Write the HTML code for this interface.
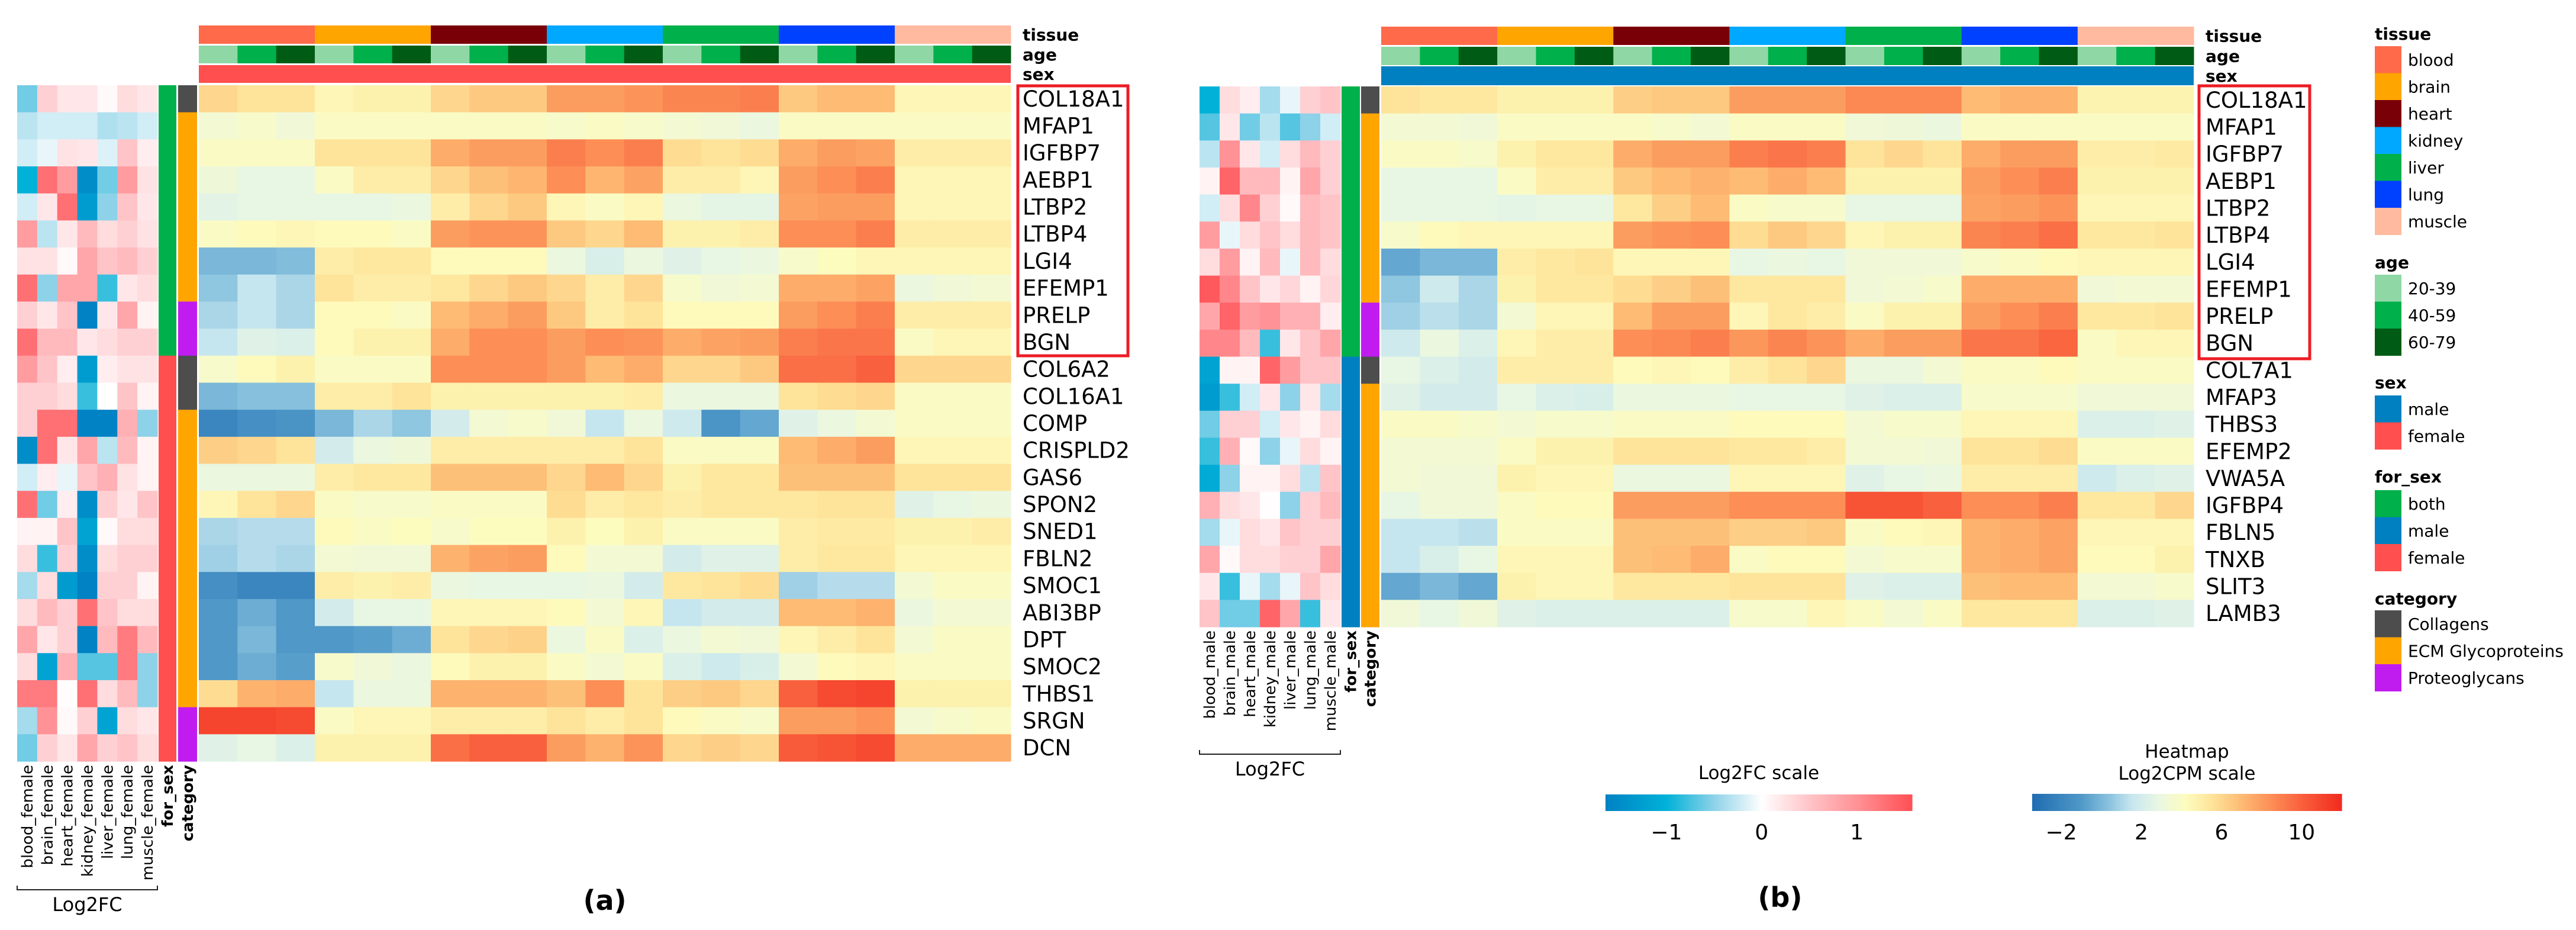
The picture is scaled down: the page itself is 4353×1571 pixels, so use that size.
<!DOCTYPE html>
<html><head><meta charset="utf-8"><title>Heatmaps</title>
<style>
html,body{margin:0;padding:0;background:#fff;}
svg{display:block;}
text{font-family:"DejaVu Sans",sans-serif;}
</style></head>
<body>
<svg id="fig" width="4353" height="1571" viewBox="0 0 4353 1571" xmlns="http://www.w3.org/2000/svg"></svg>
<script>
const tissues = ["blood","brain","heart","kidney","liver","lung","muscle"];
const ages = ["20-39","40-59","60-79"];
const categories = ["Collagens","ECM Glycoproteins","Proteoglycans"];
const forSexLevels = ["both","male","female"];

const genesA = ["COL18A1","MFAP1","IGFBP7","AEBP1","LTBP2","LTBP4","LGI4","EFEMP1","PRELP","BGN","COL6A2","COL16A1","COMP","CRISPLD2","GAS6","SPON2","SNED1","FBLN2","SMOC1","ABI3BP","DPT","SMOC2","THBS1","SRGN","DCN"];
const forSexA = [0,0,0,0,0,0,0,0,0,0,2,2,2,2,2,2,2,2,2,2,2,2,2,2,2];
const catA = [0,1,1,1,1,1,1,1,2,2,0,0,1,1,1,1,1,1,1,1,1,1,1,2,2];
const valsA = [
[6,5.5,5.5,4.5,4.8,4.8,6,6.5,6.5,8,8,8.3,8.8,8.8,9,6.5,7,7,4.5,4.5,4.5],
[3.5,3.8,3.3,4,4,4,4,4,4,3.8,4,3.8,3.5,3.3,3,4,4,4,4,4,4],
[4,4,4,5.5,5.5,5.5,7.5,8,8,9,8.5,9,5.8,5.5,5.8,7.5,8,7.8,5,5,5],
[3.2,2.8,2.8,4,5,5,6,6.8,7.2,8.5,7.2,7.8,5,5,4.5,8,8.5,9,4.5,4.5,4.5],
[2.6,2.8,2.8,2.8,2.8,3,5,6,6.5,4.5,4,4.5,3,2.7,2.7,7.8,8,8,4.5,4.5,4.5],
[4,4.3,4.5,4.3,4.3,4,8,8.3,8.3,6.5,6,7,4.8,4.8,5,8.5,8.5,9,5,5,5],
[0,0,0.2,5,5.3,5.3,4.3,4.3,4.3,3,2.2,3,2.5,2.8,3,3.8,4.2,4.5,4.5,4.5,4.5],
[0.5,1.5,1,5.5,5,5,5.3,6,6.5,6,5,6,3.8,3.3,3.5,7.5,7.5,7.8,3,3.3,3.5],
[1,1.5,1,4.3,4.3,4,7,7.5,8,6.5,5,5.5,4.3,4.3,4.3,8,8.5,9,5,5,5],
[1.5,2.5,2.3,4.3,4.8,4.8,7.5,8.5,8.5,8,8.5,8.3,7.5,7.8,8,9,9.3,9.3,4,4.5,4.5],
[3.8,4.3,4.8,4,4,4,8.5,8.5,8.5,8,7,7.5,6,6,6.5,9.5,9.5,10,6,6,6],
[0,0.3,0.3,5,5,5.5,4.8,4.8,4.8,4.8,4.8,5,3,3,3,5.5,5.8,6,4,4,4],
[-2,-1.5,-1.3,0,1,0.5,2,3.5,3.8,3.3,1.5,3,1.8,-1.2,-0.5,2.5,3,3.5,4,4,4],
[6.3,6,5.5,2,3,3.2,5,5,5,5,5,5.5,4,4,4,7,7.5,8,4.5,4.5,4.5],
[3,3,3,5,5.3,5.3,6.8,6.8,6.8,6,7,6,4.8,5.3,5.3,6.8,6.8,6.8,5.5,5.5,5.5],
[4.5,5.5,6,4,3.8,3.8,4,4,4,5.8,5,5.3,5,5.3,5.3,5.3,5.5,5.5,2.5,2.8,3],
[1,1.2,1.2,4.3,4,4.2,3.8,4.2,4.2,4.8,4.2,4.8,4,4,4,5,5.2,5.2,4.8,4.8,5],
[0.8,1.2,1,3.5,3.3,3.3,7.3,7.8,8,4.3,3.5,3.5,2,2.5,2.5,5,5.3,5.3,4.5,4.5,4.5],
[-1.5,-2,-2,5,4.8,5,3,2.8,2.8,2.8,3,2,5.3,5.5,5.8,0.8,1.2,1.2,3.5,4,4],
[-1,-0.3,-1,2,2.8,2.8,4.5,4.5,4.5,4.3,3.5,4.5,1.5,2,2,7,7,7.3,3,3.5,3.5],
[-1,0,-1,-1,-0.8,-0.3,5.5,6,6.2,3,4,2.3,3,3.5,3.3,4.5,5,5.5,3.5,4,4],
[-1,-0.3,-0.8,3.8,3.3,3,4.3,4.8,4.8,4,3.5,4,2.3,1.8,2.2,3.5,4.3,4.5,4,4,4],
[5.8,7.3,7.5,1.5,3,3,7.3,7.3,7.3,6.8,8.5,5.5,6.3,6.5,6,10,10.8,11,4.8,4.8,4.8],
[11,11,10.8,4,4.5,4.5,5,5,5,5.5,5,5.5,4.3,4,3.8,8,8,8.3,3.5,3.8,4],
[2.5,2.8,2.3,4.8,4.8,4.8,9.5,10,10,8,7.3,8.3,6,6.3,6,10.2,10.5,10.8,7.5,7.5,7.5]
];
const fcA = [
[-0.6,0.4,0.2,0.2,0.05,0.3,0.2],
[-0.3,-0.2,-0.2,-0.2,-0.35,-0.3,-0.2],
[-0.2,-0.1,0.25,0.2,-0.15,0.5,0.15],
[-1.0,1.3,0.9,-1.5,-0.6,0.9,0.25],
[-0.2,0.2,1.3,-1.3,-0.5,0.5,0.2],
[0.9,-0.3,0.2,0.6,0.3,0.4,0.25],
[0.25,0.25,0.05,0.8,0.5,0.6,0.4],
[1.3,-0.5,0.8,0.8,-0.8,0.2,0.3],
[0.4,0.2,0.5,-1.7,0.2,0.8,0.1],
[1.3,0.6,0.6,0.2,0.3,0.4,0.4],
[0.9,0.5,0.15,-1.3,0.15,0.25,0.25],
[0.4,0.4,0.3,-0.8,0.0,0.5,0.1],
[0.4,1.3,1.3,-1.8,-1.8,0.7,-0.5],
[-1.5,1.3,0.2,0.8,-0.3,0.6,0.1],
[-0.2,0.15,-0.1,0.5,0.7,0.25,0.1],
[1.3,-0.6,0.15,-1.5,0.4,0.2,0.5],
[0.1,0.1,0.5,-1.2,0.05,0.3,0.3],
[0.3,-0.8,0.4,-1.5,0.3,0.4,0.4],
[-0.4,0.3,-1.3,-1.8,0.4,0.4,0.1],
[0.3,0.6,0.4,1.3,0.5,0.3,0.3],
[0.8,0.2,0.4,-1.8,0.6,1.2,0.6],
[0.3,-1.2,0.7,-0.7,-0.7,1.2,-0.5],
[1.2,1.2,0.02,1.3,0.3,0.6,-0.5],
[-0.4,1.0,0.05,0.4,-1.2,0.3,0.2],
[-0.6,0.4,0.2,0.8,0.4,0.5,0.3]
];

const genesB = ["COL18A1","MFAP1","IGFBP7","AEBP1","LTBP2","LTBP4","LGI4","EFEMP1","PRELP","BGN","COL7A1","MFAP3","THBS3","EFEMP2","VWA5A","IGFBP4","FBLN5","TNXB","SLIT3","LAMB3"];
const forSexB = [0,0,0,0,0,0,0,0,0,0,1,1,1,1,1,1,1,1,1,1];
const catB = [0,1,1,1,1,1,1,1,2,2,0,1,1,1,1,1,1,1,1,1];
const valsB = [
[5.5,5.3,5.3,4.8,4.8,4.8,6.3,6.5,6.5,8,8,8,8.7,8.7,8.7,7,7.3,7.3,4.7,4.7,4.7],
[3.5,3.5,3.3,4,4,4,4,3.8,3.5,4,4,4,3.3,3.2,3,4,4,4,4,4,4],
[4,4,3.8,4.8,5.3,5.3,7.5,8,8,9,9.3,9,5.5,6,5.5,7.5,8,8,5,5,5.2],
[2.8,2.8,2.8,4,5,5,6.5,7,7.3,7,7.5,7,4.8,4.8,4.8,8,8.5,9,4.8,4.8,4.8],
[2.8,2.8,2.8,2.7,2.8,2.8,5.3,6.3,7,4,3.8,3.8,2.8,2.8,2.8,7.8,8,8.3,4.5,4.5,4.5],
[3.8,4.3,4.5,4.5,4.5,4.5,8,8.3,8.5,5.8,6.5,6,4.5,4.8,4.8,8.8,9,9.5,5.3,5.3,5.5],
[-0.5,0,0,5,5.3,5.5,4.5,4.5,4.5,2.8,3,2.8,3.3,3.3,3.3,3.8,4,4.3,4.5,4.5,4.5],
[0.5,1.8,1,4.8,5.3,5.3,5.8,6.3,6.8,5.3,5.3,5.3,3.3,3.5,3.8,7.5,7.5,7.5,3.3,3.5,3.5],
[0.8,1.3,1,3.5,4.5,4.5,7,8,8,4.5,5.3,5,4,4.8,4.8,8,8.5,9,5.3,5.3,5.5],
[1.8,3,2.3,4.5,5,5,8.5,8.7,9,8.2,8.8,8.3,7.5,8,8,9.3,9.3,9.8,4,4.5,4.5],
[2.8,2.3,2,5,5,5,4.3,4.5,4.3,5,5.5,6,3,3,3.5,4,4,4.3,4,4,4],
[2.5,2,2,2.8,2.3,2.2,3,3,3,2.8,2.8,2.8,2.5,2.3,2.3,3.8,3.8,3.8,3.3,3.3,3.3],
[4,4,3.8,3.5,3.8,3.8,4,4,4,4.3,4.3,4.3,3.5,3.8,3.8,4.5,4.5,4.5,2.3,2.3,2.5],
[3.5,3.5,3.5,4,4.8,4.8,5.5,5.5,5.5,5.3,5.3,5,3.5,3.5,3.3,5.5,5.5,5.8,4,4,4],
[3.5,3.3,3.3,4.8,4.5,4.5,3,3,3,4.5,4.5,4.5,2.5,2.8,3,5,5,5,1.8,2.3,2.5],
[2.8,3.3,3.3,4,4.3,4.3,8,8,8,8.5,8.5,8.5,10.5,10.5,10,8.5,8.5,9,5.3,5.3,6],
[1.5,1.5,1.3,4,4,4,6.8,6.8,6.8,6.3,6.3,6.5,4,4.3,4.5,7.3,7.5,7.8,4.5,4.5,4.5],
[1.5,2.2,2.8,4.5,4.5,4.5,6.8,7,7.5,4,4.3,4.3,3.5,3.8,3.8,7.3,7.5,7.8,4.3,4.3,4.8],
[-0.5,0,-0.5,4.8,4.5,4.5,5.3,5.3,5.3,5.5,5.5,5.5,2.5,2.3,2.3,6.8,7,7,3.5,3.5,3.8],
[3.3,2.8,3.3,2.5,2.3,2.3,2.3,2.3,2.3,3.8,3.8,4.5,4,3.5,4,5.3,5.3,5.3,2.3,2.3,2.5]
];
const fcB = [
[-1.0,0.3,0.15,-0.4,-0.1,0.4,0.5],
[-0.7,0.2,-0.6,-0.3,-0.7,-0.5,-0.2],
[-0.3,1.0,0.2,-0.2,0.3,0.6,0.4],
[0.1,1.4,0.6,0.6,0.1,0.8,0.4],
[-0.2,0.3,1.1,0.4,0.05,0.6,0.5],
[0.9,-0.1,0.3,0.5,0.3,0.6,0.5],
[0.3,0.9,0.1,0.6,-0.1,0.6,0.3],
[1.5,1.1,0.5,0.2,0.35,0.1,0.35],
[0.8,1.4,0.9,1.0,0.7,0.7,0.15],
[1.1,1.1,0.6,-0.8,0.2,0.5,0.8],
[-1.2,0.1,0.1,1.4,0.9,0.5,0.5],
[-1.3,-0.8,-0.2,0.2,-0.5,0.2,-0.4],
[-0.6,0.4,0.4,-0.2,0.2,0.1,0.3],
[-0.8,0.7,0.05,-0.5,-0.1,0.3,0.1],
[-1.1,-0.5,0.1,0.1,0.3,-0.3,0.5],
[0.7,0.3,0.2,0.02,-0.5,0.4,0.6],
[-0.4,-0.1,0.3,0.2,0.5,0.4,0.4],
[0.8,0.05,0.3,0.3,0.4,0.4,0.8],
[0.2,-0.8,-0.1,-0.4,-0.1,0.5,0.3],
[0.5,-0.6,-0.6,1.4,0.8,-0.8,0.2]
];
const fcTicks = [-1,0,1];
const heatTicks = [-2,2,6,10];

const tissueCol = ["#ff6a4a","#ffa500","#7a0008","#00a8ff","#00b04a","#0040ff","#ffbaa0"];
const ageCol = ["#8fd8a6","#00b04a","#005c14"];
const sexCol = {male:"#0080c0",female:"#ff4f4f"};
const forSexCol = ["#00b04a","#0080c0","#ff4f4f"];
const catCol = ["#4d4d4d","#ffa500","#c01cf0"];

const NS = "http://www.w3.org/2000/svg";
const svg = document.getElementById("fig");
function el(tag, attrs, parent){ const e=document.createElementNS(NS,tag); for(const k in attrs) e.setAttribute(k,attrs[k]); (parent||svg).appendChild(e); return e; }
function hex(h){return [parseInt(h.slice(1,3),16),parseInt(h.slice(3,5),16),parseInt(h.slice(5,7),16)];}
function ramp(stops){ return function(v){ if(v<=stops[0][0]) return stops[0][1]; for(let i=1;i<stops.length;i++){ if(v<=stops[i][0]){ const t=(v-stops[i-1][0])/(stops[i][0]-stops[i-1][0]); const a=hex(stops[i-1][1]),b=hex(stops[i][1]); return "rgb("+a.map((x,j)=>Math.round(x+(b[j]-x)*t)).join(",")+")"; } } return stops[stops.length-1][1]; }; }
const heatStops=[[-3.45,"#1f6db2"],[-1,"#4f98c8"],[0.5,"#8fc6e0"],[1.5,"#c6e6ef"],[2.8,"#e8f6e4"],[4.2,"#fdfcbf"],[5.5,"#fee49a"],[7,"#fdbb74"],[8.5,"#fc8e56"],[10,"#f9603d"],[12,"#f22a1e"]];
const fcStops=[[-1.64,"#0082c4"],[-1.0,"#00b2d8"],[-0.5,"#8dd2e8"],[0,"#ffffff"],[0.5,"#ffc4c8"],[1.0,"#ff9296"],[1.6,"#ff4d52"]];
const heatColor = ramp(heatStops);
const fcColor = ramp(fcStops);

function panel(P){
  const g = el("g",{});
  
  
  const nR=P.genes.length, rh=(P.y1-P.y0)/nR, cw=(P.hx1-P.hx0)/21, fw=(P.fx1-P.fx0)/7;
  const rowY = i => P.y0 + i*rh;
  const colX = j => P.hx0 + j*cw;
  const fcX = j => P.fx0 + j*fw;
  for(let t=0;t<7;t++){
    const r=el("rect",{x:colX(t*3),y:P.ty[0],width:cw*3+0.5,height:P.ty[1]-P.ty[0],fill:tissueCol[t]},g);
    
    
  }
  for(let j=0;j<21;j++){
    const r=el("rect",{x:colX(j),y:P.ay[0],width:cw+0.5,height:P.ay[1]-P.ay[0],fill:ageCol[j%3]},g);
    
    
  }
  const sx=el("rect",{x:P.hx0,y:P.sy[0],width:P.hx1-P.hx0,height:P.sy[1]-P.sy[0],fill:sexCol[P.sex]},g);
  
  
  const labs=[["tissue",P.ty],["age",P.ay],["sex",P.sy]];
  labs.forEach(L=>{
    const t=el("text",{x:P.lx,y:(L[1][0]+L[1][1])/2+10,"font-size":28,"font-weight":"bold"},g);
    t.textContent=L[0];
    
    
  });
  for(let i=0;i<nR;i++){
    for(let j=0;j<21;j++){
      const r=el("rect",{x:colX(j),y:rowY(i),width:cw+0.6,height:rh+0.6,fill:heatColor(P.vals[i][j])},g);
      
      
    }
    for(let j=0;j<7;j++){
      const r=el("rect",{x:fcX(j),y:rowY(i),width:fw+0.6,height:rh+0.6,fill:fcColor(P.fc[i][j])},g);
      
      
    }
    const fs=el("rect",{x:P.fsx[0],y:rowY(i),width:P.fsx[1]-P.fsx[0],height:rh+0.6,fill:forSexCol[P.forSex[i]]},g);
    
    
    const ct=el("rect",{x:P.cx[0],y:rowY(i),width:P.cx[1]-P.cx[0],height:rh+0.6,fill:catCol[P.cat[i]]},g);
    
    
    const tx=el("text",{x:P.lx,y:rowY(i)+rh/2+13,"font-size":37,"font-family":"Liberation Sans, sans-serif"},g);
    tx.textContent=P.genes[i];
    
    
  }
  const box=el("rect",{x:P.box[0],y:P.box[1],width:P.box[2]-P.box[0],height:P.box[3]-P.box[1],fill:"none",stroke:"#ee1c25","stroke-width":5},g);
  
  
  const cl=P.colLabels;
  for(let j=0;j<7;j++){
    const cxp=fcX(j)+fw/2+9;
    const t=el("text",{x:0,y:0,"font-size":26,"text-anchor":"end",transform:"translate("+cxp+","+(P.y1+6)+") rotate(-90)"},g);
    t.textContent=tissues[j]+"_"+cl;
    
    
  }
  [["for_sex",P.fsx],["category",P.cx]].forEach(L=>{
    const cxp=(L[1][0]+L[1][1])/2+9;
    const t=el("text",{x:0,y:0,"font-size":26,"font-weight":"bold","text-anchor":"end",transform:"translate("+cxp+","+(P.y1+6)+") rotate(-90)"},g);
    t.textContent=L[0];
    
    
  });
  const br=el("path",{d:"M"+P.fx0+" "+(P.by-7)+"V"+P.by+"H"+P.fx1+"V"+(P.by-7),fill:"none",stroke:"#222","stroke-width":2},g);
  
  
  const bl=el("text",{x:(P.fx0+P.fx1)/2,y:P.by+36,"font-size":32,"text-anchor":"middle"},g);
  bl.textContent="Log2FC";
  
  
  const pl=el("text",{x:P.plab[0],y:P.plab[1],"font-size":46,"font-weight":"bold","text-anchor":"middle"},g);
  pl.textContent=P.plab[2];
  
  
}

panel({name:"panel-a",genes:genesA,vals:valsA,fc:fcA,forSex:forSexA,cat:catA,sex:"female",
  y0:144,y1:1286,hx0:336,hx1:1708,fx0:29,fx1:266,fsx:[268,298],cx:[301,333],
  ty:[43,74],ay:[77,107],sy:[110,140],lx:1728,box:[1720,145,1906,601],colLabels:"female",by:1503,plab:[1022,1537,"(a)"]});
panel({name:"panel-b",genes:genesB,vals:valsB,fc:fcB,forSex:forSexB,cat:catB,sex:"male",
  y0:146,y1:1059,hx0:2334,hx1:3707,fx0:2027,fx1:2265,fsx:[2267,2298],cx:[2300,2331],
  ty:[45,76],ay:[79,110],sy:[112,144],lx:3727,box:[3716,145,3903,606],colLabels:"male",by:1274,plab:[3008,1532,"(b)"]});

function colorbar(name, x0, x1, y0, y1, vmin, vmax, fn, ticks, titles, tyBase){
  const g=el("g",{});
  
  
  const n=120, w=(x1-x0)/n;
  for(let k=0;k<n;k++){
    const v=vmin+(vmax-vmin)*(k+0.5)/n;
    const r=el("rect",{x:x0+k*w,y:y0,width:w+0.6,height:y1-y0,fill:fn(v)},g);
    
    
  }
  const sc=v=>x0+(v-vmin)/(vmax-vmin)*(x1-x0);
  ticks.forEach(tv=>{
    const t=el("text",{x:sc(tv),y:1418,"font-size":36,"text-anchor":"middle"},g);
    t.textContent=(tv<0?"\u2212"+Math.abs(tv):String(tv));
    
    
  });
  titles.forEach((s,i)=>{
    const t=el("text",{x:(x0+x1)/2,y:tyBase[i],"font-size":31,"text-anchor":"middle"},g);
    t.textContent=s;
    
    
  });
}
colorbar("log2fc-colorbar",2713,3231,1342,1370,-1.64,1.58,fcColor,fcTicks,["Log2FC scale"],[1316]);
colorbar("heatmap-colorbar",3434,3957,1341,1370,-3.45,12.0,heatColor,heatTicks,["Heatmap","Log2CPM scale"],[1280,1317]);

const legendGroups=[["tissue",tissues,tissueCol,67,78],["age",ages,ageCol,453,464],["sex",["male","female"],[sexCol.male,sexCol.female],656,668],["for_sex",forSexLevels,forSexCol,815,828],["category",categories,catCol,1021,1031]];
legendGroups.forEach(L=>{
  const g=el("g",{});
  
  
  const t=el("text",{x:4013,y:L[3],"font-size":28,"font-weight":"bold"},g);
  t.textContent=L[0];
  
  
  L[1].forEach((lab,i)=>{
    const y=L[4]+i*45.5;
    const r=el("rect",{x:4013,y:y,width:45,height:46,fill:L[2][i]},g);
    
    
    const tx=el("text",{x:4069,y:y+33,"font-size":28},g);
    tx.textContent=lab;
    
    
  });
});
</script>
</body></html>
